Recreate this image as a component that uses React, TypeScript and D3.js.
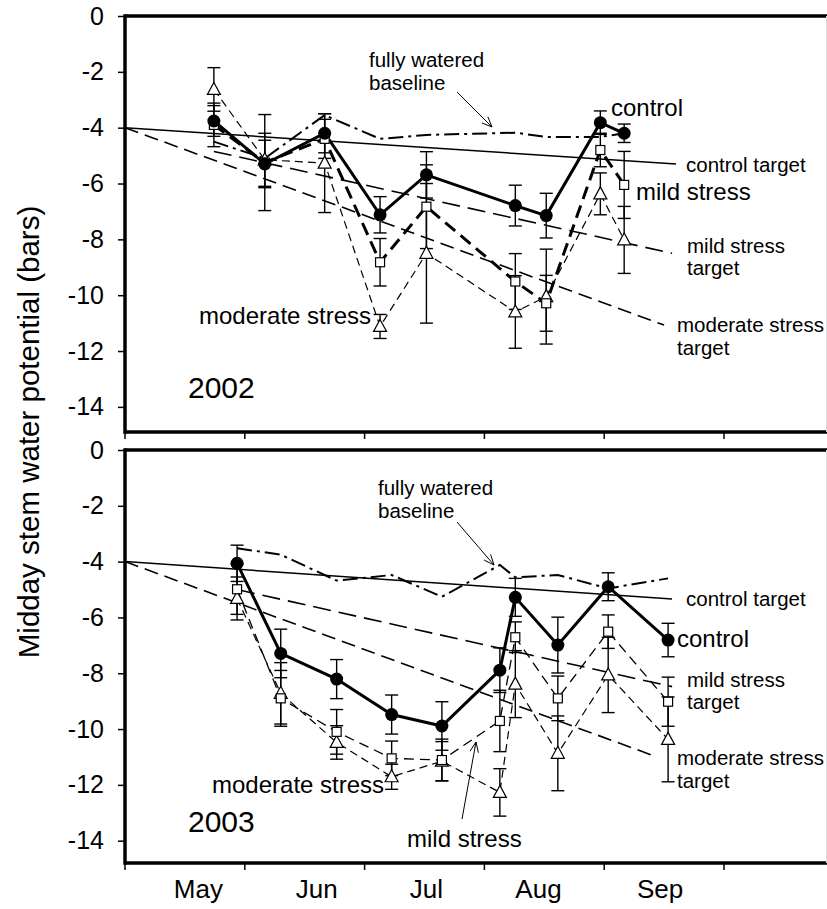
import React, { useEffect, useRef } from 'react';
import * as d3 from 'd3';

// ---- 2002 ----
const dates2002 = ['05-24', '06-06', '06-21', '07-05', '07-17', '08-09', '08-17', '08-31', '09-06'];
const control2002 = [-3.76, -5.3, -4.2, -7.12, -5.69, -6.79, -7.15, -3.82, -4.2];
const controlErr2002 = [0.55, 0.85, 0.7, 0.65, 0.83, 0.73, 0.8, 0.42, 0.33];
const mild2002 = [-3.9, -5.25, -4.4, -8.82, -6.83, -9.51, -10.29, -4.8, -6.05];
const mildErr2002 = [0.78, 1.72, 0.7, 0.85, 1.5, 1.0, 1.0, 0.6, 1.2];
const moderate2002 = [-2.63, -5.15, -5.27, -11.12, -8.5, -10.6, -10.05, -6.37, -8.02];
const moderateErr2002 = [0.78, 0.95, 1.77, 0.43, 2.5, 1.3, 1.7, 0.75, 1.2];
const baseline2002 = [-4.5, -5.1, -3.55, -4.4, -4.26, -4.18, -4.33, -4.33, -4.2];
const controlTarget2002: [string, number][] = [['05-01', -4], ['09-19', -5.3]];
const mildTarget2002: [string, number][] = [['05-24', -4.85], ['09-18', -8.5]];
const moderateTarget2002: [string, number][] = [['05-01', -4], ['09-16', -11.07]];

// ---- 2003 ----
const dates2003 = ['05-30', '06-10', '06-24', '07-08', '07-21', '08-05', '08-09', '08-20', '09-02', '09-17'];
const control2003 = [-4.06, -7.29, -8.21, -9.48, -9.89, -7.89, -5.28, -6.99, -4.9, -6.81];
const controlErr2003 = [0.65, 0.87, 0.7, 0.7, 0.87, 0.8, 0.68, 1.0, 0.5, 0.6];
const mild2003 = [-4.99, -8.9, -10.1, -11.05, -11.11, -9.71, -6.71, -8.9, -6.51, -9.02];
const mildErr2003 = [0.9, 1.0, 0.8, 0.62, 0.75, 1.1, 0.55, 0.8, 0.6, 0.88];
const moderate2003 = [-5.32, -8.72, -10.48, -11.71, -11.15, -12.27, -8.39, -10.87, -8.06, -10.37];
const moderateErr2003 = [0.77, 1.1, 0.6, 0.45, 0.7, 0.85, 1.2, 1.34, 1.35, 1.52];
const baseline2003 = [-3.52, -3.75, -4.68, -4.48, -5.26, -4.12, -4.56, -4.48, -4.96, -4.6];
const controlTarget2003: [string, number][] = [['05-01', -4], ['09-18', -5.34]];
const mildTarget2003: [string, number][] = [['05-30', -5.0], ['09-18', -8.48]];
const moderateTarget2003: [string, number][] = [['05-01', -4], ['09-14', -10.99]];

// axis
const monthTicks = [5, 6, 7, 8, 9, 10];
const monthLabels = ['May', 'Jun', 'Jul', 'Aug', 'Sep'];
const monthLabelDates = ['05-20', '06-19', '07-17', '08-15', '09-15'];
const yTicks = [0, -2, -4, -6, -8, -10, -12, -14];

const daysIn = [31, 28, 31, 30, 31, 30, 31, 31, 30, 31, 30, 31];
const toMonth = (s: string) => {
  const [m, d] = s.split('-').map(Number);
  return m + (d - 1) / daysIn[m - 1];
};

const FONT = 'Liberation Sans, Arial, sans-serif';

const panels = [
  {
    top: 16, bottom: 432, yMin: -14.9, year: '2002',
    dates: dates2002, control: control2002, controlErr: controlErr2002,
    mild: mild2002, mildErr: mildErr2002, moderate: moderate2002, moderateErr: moderateErr2002,
    baseline: baseline2002, controlTarget: controlTarget2002, mildTarget: mildTarget2002,
    moderateTarget: moderateTarget2002, mildW: 3, mildDash: '13,7',
  },
  {
    top: 450, bottom: 863, yMin: -14.8, year: '2003',
    dates: dates2003, control: control2003, controlErr: controlErr2003,
    mild: mild2003, mildErr: mildErr2003, moderate: moderate2003, moderateErr: moderateErr2003,
    baseline: baseline2003, controlTarget: controlTarget2003, mildTarget: mildTarget2003,
    moderateTarget: moderateTarget2003, mildW: 1.3, mildDash: '10,6',
  },
];

const App = () => {
  const ref = useRef<SVGSVGElement>(null);

  useEffect(() => {
    const svg = d3.select(ref.current);
    svg.selectAll('*').remove();

    const x = d3.scaleLinear().domain([5, 10]).range([125, 724]);

    const text = (t: string, px: number, py: number, size: number, anchor = 'start') =>
      svg.append('text')
        .attr('x', px).attr('y', py)
        .attr('font-family', FONT).attr('font-size', size)
        .attr('text-anchor', anchor).attr('fill', '#000')
        .text(t);

    const arrow = (x1: number, y1: number, x2: number, y2: number) => {
      svg.append('line').attr('x1', x1).attr('y1', y1).attr('x2', x2).attr('y2', y2)
        .attr('stroke', '#000').attr('stroke-width', 1);
      const a = Math.atan2(y2 - y1, x2 - x1);
      const L = 11, s = 0.4;
      [a + Math.PI - s, a + Math.PI + s].forEach(b => {
        svg.append('line').attr('x1', x2).attr('y1', y2)
          .attr('x2', x2 + L * Math.cos(b)).attr('y2', y2 + L * Math.sin(b))
          .attr('stroke', '#000').attr('stroke-width', 1);
      });
    };

    panels.forEach(p => {
      const y = d3.scaleLinear().domain([0, p.yMin]).range([p.top, p.bottom]);
      const g = svg.append('g');
      const xs = p.dates.map(toMonth);

      const line = d3.line<[number, number]>().x(d => x(d[0])).y(d => y(d[1]));
      const series = (vals: number[]) => vals.map((v, i) => [xs[i], v] as [number, number]);
      const target = (pts: [string, number][]) => pts.map(d => [toMonth(d[0]), d[1]] as [number, number]);

      const path = (d: [number, number][], w: number, dash: string | null) =>
        g.append('path').attr('d', line(d)).attr('fill', 'none')
          .attr('stroke', '#000').attr('stroke-width', w)
          .attr('stroke-dasharray', dash);

      // targets
      path(target(p.controlTarget), 1.5, null);
      path(target(p.mildTarget), 1.6, '18,8');
      path(target(p.moderateTarget), 1.6, '14,7');

      // fully watered baseline
      path(series(p.baseline), 2, '15,5,3,5');

      // treatments
      path(series(p.moderate), 1.2, '8,5');
      path(series(p.mild), p.mildW, p.mildDash);
      path(series(p.control), 3, null);

      // error bars
      const errs = [
        [p.moderate, p.moderateErr], [p.mild, p.mildErr], [p.control, p.controlErr],
      ];
      errs.forEach(([vals, e]) => {
        vals.forEach((v, i) => {
          const cx = x(xs[i]);
          const y1 = y(v + e[i]), y2 = y(v - e[i]);
          g.append('line').attr('x1', cx).attr('x2', cx).attr('y1', y1).attr('y2', y2)
            .attr('stroke', '#000').attr('stroke-width', 1.4);
          [y1, y2].forEach(yy => g.append('line')
            .attr('x1', cx - 6.5).attr('x2', cx + 6.5).attr('y1', yy).attr('y2', yy)
            .attr('stroke', '#000').attr('stroke-width', 1.4));
        });
      });

      // markers
      p.moderate.forEach((v, i) => {
        const cx = x(xs[i]), cy = y(v);
        g.append('path')
          .attr('d', `M${cx},${cy - 7}L${cx + 6.5},${cy + 5}L${cx - 6.5},${cy + 5}Z`)
          .attr('fill', '#fff').attr('stroke', '#000').attr('stroke-width', 1.2);
      });
      p.mild.forEach((v, i) => {
        g.append('rect').attr('x', x(xs[i]) - 4.5).attr('y', y(v) - 4.5)
          .attr('width', 9).attr('height', 9)
          .attr('fill', '#fff').attr('stroke', '#000').attr('stroke-width', 1.2);
      });
      p.control.forEach((v, i) => {
        g.append('circle').attr('cx', x(xs[i])).attr('cy', y(v)).attr('r', 6.5).attr('fill', '#000');
      });

      // y axis ticks
      const yAxis = d3.axisLeft(y).tickValues(yTicks).tickSize(7).tickPadding(14)
        .tickFormat(d => (+d === 0 ? '0' : `-${Math.abs(+d)}`));
      const ag = svg.append('g').attr('transform', 'translate(125,0)').call(yAxis);
      ag.select('.domain').remove();
      ag.selectAll('line').attr('stroke', '#000').attr('stroke-width', 1.5);
      ag.selectAll('text').attr('font-family', FONT).attr('font-size', 25).attr('fill', '#000');

      // x ticks
      monthTicks.forEach(m => {
        svg.append('line').attr('x1', x(m)).attr('x2', x(m))
          .attr('y1', p.bottom).attr('y2', p.bottom + 7)
          .attr('stroke', '#000').attr('stroke-width', 1.5);
      });

      // frame
      const frame = (x1: number, y1: number, x2: number, y2: number) =>
        svg.append('line').attr('x1', x1).attr('y1', y1).attr('x2', x2).attr('y2', y2)
          .attr('stroke', '#000').attr('stroke-width', 3.5);
      frame(125, p.top, 827, p.top);
      frame(125, p.bottom, 827, p.bottom);
      frame(125, p.top - 1.75, 125, p.bottom + 1.75);
      svg.append('line').attr('x1', 826.5).attr('x2', 826.5).attr('y1', p.top).attr('y2', p.bottom)
        .attr('stroke', '#ddd').attr('stroke-width', 1);

      text(p.year, 188, p.year === '2002' ? 398 : 832, 30);
    });

    // month labels
    monthLabels.forEach((m, i) => text(m, x(toMonth(monthLabelDates[i])), 898, 26, 'middle'));

    // y title
    svg.append('text')
      .attr('transform', 'translate(38.5,432) rotate(-90)')
      .attr('font-family', FONT).attr('font-size', 29.5).attr('text-anchor', 'middle')
      .text('Midday stem water potential (bars)');

    // 2002 annotations
    text('fully watered', 369, 67, 20.5);
    text('baseline', 369, 90, 20.5);
    arrow(457, 92, 492, 127);
    text('control', 611, 116, 24);
    text('control target', 686, 172, 20.5);
    text('mild stress', 636, 200, 24);
    text('mild stress', 687, 253, 20.5);
    text('target', 687, 275, 20.5);
    text('moderate stress', 677, 332, 20.5);
    text('target', 677, 355, 20.5);
    text('moderate stress', 199, 324, 24);

    // 2003 annotations
    text('fully watered', 378, 495, 20.5);
    text('baseline', 378, 518, 20.5);
    arrow(457, 522, 494, 565);
    text('control target', 686, 606, 20.5);
    text('control', 677, 647, 24);
    text('mild stress', 687, 687, 20.5);
    text('target', 687, 709, 20.5);
    text('moderate stress', 677, 765, 20.5);
    text('target', 677, 788, 20.5);
    text('moderate stress', 212, 793, 24);
    text('mild stress', 407, 847, 24);
    arrow(462, 819, 476, 742);
  }, []);

  return (
    <svg
      ref={ref}
      width={827}
      height={909}
      style={{ position: 'absolute', left: 0, top: 0, background: '#fff' }}
    />
  );
};

export default App;
